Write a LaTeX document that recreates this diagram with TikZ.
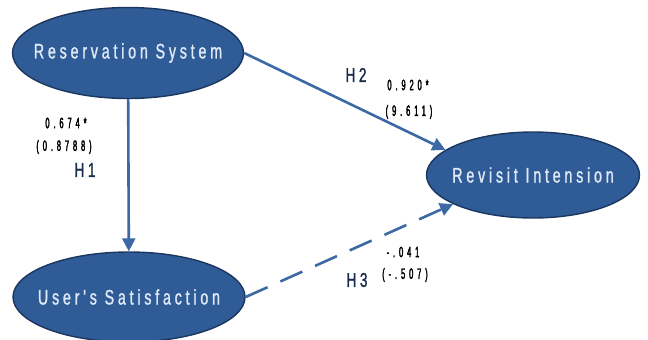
\documentclass[tikz,border=0pt]{standalone}
\usepackage{fontspec}
\setmainfont{Liberation Sans}
\newfontfamily\constructfont{Liberation Sans}[FakeStretch=0.68,LetterSpace=18,FakeBold=1.2]
\newfontfamily\coeffont{Liberation Sans}[FakeStretch=0.5,LetterSpace=26,FakeBold=2]
\usetikzlibrary{shapes.geometric,arrows.meta}
\definecolor{constructblue}{RGB}{47,92,150}
\definecolor{rimblue}{RGB}{28,55,95}
\definecolor{pathblue}{RGB}{60,104,164}
\definecolor{textblue}{RGB}{222,232,246}

\begin{document}
\begin{tikzpicture}[x=1pt,y=-1pt,
	construct/.style={ellipse, draw=rimblue, line width=1.4pt, fill=constructblue, inner xsep=-40pt, inner ysep=0pt, text=textblue, font=\constructfont\fontsize{21}{23}\selectfont},
	hyppath/.style={draw=pathblue, line width=2.6pt, -{Triangle[length=13pt,width=13pt]}},
	coef/.style={font=\coeffont\fontsize{15}{17}\selectfont, text=black},
	hyp/.style={font=\constructfont\fontsize{20}{22}\selectfont, text=rimblue!80!black}]
	\useasboundingbox (0,0) rectangle (648,340);
	\node[construct, minimum width=231pt, minimum height=91pt] (rs) at (128,53) {Reservation System};
	\node[construct, minimum width=232pt, minimum height=90pt] (us) at (129,297) {User's Satisfaction};
	\node[construct, minimum width=213pt, minimum height=86pt] (ri) at (533,175) {Revisit Intension};
	\draw[hyppath] (rs) -- (us);
	\draw[hyppath] (rs.east) -- (ri.164);
	\draw[hyppath, dash pattern=on 24pt off 14pt] (us.east) -- (ri.200);
	\node[coef] (c1) at (66,123) {0.674*};
	\node[coef] (t1) at (64,147) {(0.8788)};
	\node[hyp] (h1) at (85,170) {H1};
	\node[hyp] (h2) at (356,75) {H2};
	\node[coef] (c2) at (408,85) {0.920*};
	\node[coef] (t2) at (409,112) {(9.611)};
	\node[coef] (c3) at (403,252) {-.041};
	\node[coef] (t3) at (405,275) {(-.507)};
	\node[hyp] (h3) at (357,280) {H3};
\end{tikzpicture}
\end{document}
